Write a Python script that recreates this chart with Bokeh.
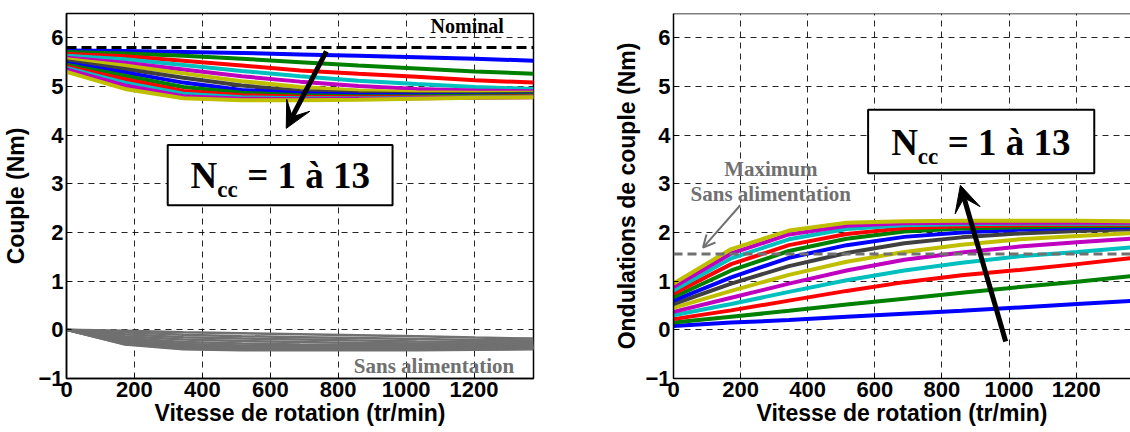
from bokeh.plotting import figure
from bokeh.layouts import row
from bokeh.models import (Range1d, FixedTicker, Label, BoxAnnotation,
                          Arrow, VeeHead, OpenHead, Span)
from bokeh.embed import file_html
from bokeh.resources import INLINE

# ---------------- data ----------------
speed = [0, 172, 344, 516, 688, 859, 1031, 1203, 1375]

x_ticks = [0, 200, 400, 600, 800, 1000, 1200]
y_ticks = [-1, 0, 1, 2, 3, 4, 5, 6]

series_colors = ["#0000FF", "#008000", "#FF0000", "#00BFBF", "#BF00BF", "#BFBF00", "#404040",
                 "#0000FF", "#008000", "#FF0000", "#00BFBF", "#BF00BF", "#BFBF00"]

# Couple (Nm), Ncc = 1 .. 13
couple_n1 = [5.74, 5.73, 5.71, 5.69, 5.66, 5.63, 5.60, 5.57, 5.53]
couple_n2 = [5.71, 5.68, 5.63, 5.57, 5.50, 5.43, 5.37, 5.31, 5.26]
couple_n3 = [5.67, 5.62, 5.53, 5.43, 5.33, 5.26, 5.20, 5.13, 5.08]
couple_n4 = [5.63, 5.56, 5.44, 5.32, 5.21, 5.12, 5.05, 4.99, 4.95]
couple_n5 = [5.59, 5.49, 5.35, 5.21, 5.10, 5.01, 4.95, 4.92, 4.90]
couple_n6 = [5.56, 5.43, 5.27, 5.11, 4.99, 4.92, 4.88, 4.87, 4.87]
couple_n7 = [5.52, 5.36, 5.18, 5.02, 4.91, 4.86, 4.84, 4.84, 4.85]
couple_n8 = [5.48, 5.29, 5.08, 4.93, 4.86, 4.83, 4.82, 4.82, 4.83]
couple_n9 = [5.45, 5.22, 4.99, 4.87, 4.82, 4.80, 4.80, 4.81, 4.82]
couple_n10 = [5.41, 5.15, 4.91, 4.82, 4.79, 4.78, 4.78, 4.79, 4.80]
couple_n11 = [5.38, 5.08, 4.85, 4.78, 4.76, 4.76, 4.77, 4.78, 4.79]
couple_n12 = [5.35, 5.02, 4.80, 4.75, 4.74, 4.75, 4.76, 4.77, 4.78]
couple_n13 = [5.30, 4.95, 4.76, 4.72, 4.72, 4.73, 4.75, 4.77, 4.78]

# Couple sans alimentation (Nm)
sans_n1 = [0, -0.02, -0.05, -0.07, -0.09, -0.11, -0.13, -0.16, -0.18]
sans_n2 = [0, -0.05, -0.10, -0.13, -0.15, -0.17, -0.19, -0.21, -0.22]
sans_n3 = [0, -0.09, -0.15, -0.18, -0.20, -0.22, -0.24, -0.25, -0.25]
sans_n4 = [0, -0.13, -0.20, -0.23, -0.25, -0.27, -0.28, -0.28, -0.28]
sans_n5 = [0, -0.17, -0.25, -0.28, -0.30, -0.31, -0.31, -0.31, -0.30]
sans_n6 = [0, -0.20, -0.29, -0.32, -0.33, -0.34, -0.34, -0.33, -0.32]
sans_n7 = [0, -0.22, -0.31, -0.34, -0.35, -0.35, -0.35, -0.35, -0.34]
sans_n8 = [0, -0.24, -0.33, -0.36, -0.37, -0.37, -0.37, -0.36, -0.35]
sans_n9 = [0, -0.25, -0.35, -0.37, -0.38, -0.38, -0.38, -0.37, -0.36]
sans_n10 = [0, -0.27, -0.36, -0.39, -0.39, -0.39, -0.39, -0.38, -0.37]
sans_n11 = [0, -0.28, -0.38, -0.40, -0.40, -0.40, -0.40, -0.39, -0.38]
sans_n12 = [0, -0.29, -0.39, -0.41, -0.41, -0.41, -0.41, -0.40, -0.39]
sans_n13 = [0, -0.30, -0.40, -0.42, -0.42, -0.42, -0.42, -0.41, -0.40]

# Ondulations de couple (Nm), Ncc = 1 .. 13
ond_n1 = [0.08, 0.15, 0.20, 0.27, 0.33, 0.39, 0.46, 0.53, 0.60]
ond_n2 = [0.15, 0.27, 0.39, 0.52, 0.64, 0.76, 0.88, 0.99, 1.11]
ond_n3 = [0.22, 0.40, 0.60, 0.80, 0.98, 1.12, 1.23, 1.35, 1.48]
ond_n4 = [0.30, 0.53, 0.78, 1.02, 1.22, 1.38, 1.51, 1.60, 1.70]
ond_n5 = [0.37, 0.66, 0.95, 1.22, 1.44, 1.59, 1.71, 1.80, 1.88]
ond_n6 = [0.45, 0.80, 1.13, 1.40, 1.60, 1.75, 1.86, 1.93, 1.99]
ond_n7 = [0.53, 0.95, 1.31, 1.58, 1.78, 1.90, 1.98, 2.03, 2.07]
ond_n8 = [0.60, 1.08, 1.48, 1.74, 1.91, 2.00, 2.06, 2.09, 2.11]
ond_n9 = [0.67, 1.22, 1.62, 1.87, 2.02, 2.08, 2.11, 2.13, 2.14]
ond_n10 = [0.74, 1.35, 1.74, 1.97, 2.09, 2.13, 2.15, 2.16, 2.16]
ond_n11 = [0.81, 1.47, 1.86, 2.07, 2.15, 2.17, 2.18, 2.18, 2.18]
ond_n12 = [0.88, 1.57, 1.96, 2.14, 2.19, 2.20, 2.20, 2.20, 2.20]
ond_n13 = [0.95, 1.66, 2.04, 2.20, 2.23, 2.24, 2.24, 2.24, 2.23]

couple_nominal = 5.8
ondulation_max_sans_alim = 1.56

couple_series = [couple_n1, couple_n2, couple_n3, couple_n4, couple_n5, couple_n6, couple_n7,
                 couple_n8, couple_n9, couple_n10, couple_n11, couple_n12, couple_n13]
sans_series = [sans_n1, sans_n2, sans_n3, sans_n4, sans_n5, sans_n6, sans_n7,
               sans_n8, sans_n9, sans_n10, sans_n11, sans_n12, sans_n13]
ond_series = [ond_n1, ond_n2, ond_n3, ond_n4, ond_n5, ond_n6, ond_n7,
              ond_n8, ond_n9, ond_n10, ond_n11, ond_n12, ond_n13]

SANS = "Liberation Sans"
SERIF = "Liberation Serif"
GRAY = "#707070"
H = 432


def style_axis(ax, label_standoff=0):
    ax.axis_line_width = 1.5
    ax.axis_line_color = "black"
    ax.major_tick_in = 5
    ax.major_tick_out = 0
    ax.minor_tick_in = 0
    ax.minor_tick_out = 0
    ax.major_tick_line_color = "black"
    ax.major_label_text_font = SANS
    ax.major_label_text_font_style = "bold"
    ax.major_label_text_font_size = "22px"
    ax.major_label_text_color = "black"
    ax.major_label_standoff = 3
    ax.axis_label_text_font = SANS
    ax.axis_label_text_font_style = "bold"
    ax.axis_label_text_font_size = "23px"
    ax.axis_label_text_color = "black"
    ax.axis_label_standoff = label_standoff


def make_fig(width, mbl, mbr, mbt, mbb, x_end, ylabel, ylabel_standoff):
    p = figure(width=width, height=H, x_range=Range1d(0, x_end), y_range=Range1d(-1, 6.5),
               output_backend="svg", toolbar_location=None,
               min_border_left=mbl, min_border_right=mbr, min_border_top=mbt,
               min_border_bottom=mbb)
    p.xaxis.ticker = FixedTicker(ticks=x_ticks)
    p.yaxis.ticker = FixedTicker(ticks=y_ticks)
    style_axis(p.xaxis[0], 0)
    style_axis(p.yaxis[0], ylabel_standoff)
    p.xaxis.axis_label = "Vitesse de rotation (tr/min)"
    p.yaxis.axis_label = ylabel
    for g in (p.xgrid[0], p.ygrid[0]):
        g.grid_line_color = "black"
        g.grid_line_alpha = 0.85
        g.grid_line_width = 1
        g.grid_line_dash = "6 5"
    p.background_fill_color = "white"
    p.border_fill_color = "white"
    return p


def add_label(p, x, y, text, size, color="black", align="left", font=SERIF):
    p.add_layout(Label(x=x, y=y, text=text, text_font=font, text_font_style="bold",
                       text_font_size=size, text_color=color, text_align=align,
                       text_baseline="middle"))


def add_box(p, left, right, bottom, top):
    p.add_layout(BoxAnnotation(left=left, right=right, bottom=bottom, top=top,
                               fill_color="white", fill_alpha=1,
                               line_color="black", line_alpha=1, line_width=2))


# ---------------- left panel: Couple ----------------
p1 = make_fig(545, 66, 12, 11, 54, 1375, "Couple (Nm)", 6)
p1.outline_line_color = "black"
p1.outline_line_width = 1.5

for ys in sans_series:
    p1.line(speed, ys, line_color=GRAY, line_width=2.5)
for ys, c in zip(couple_series, series_colors):
    p1.line(speed, ys, line_color=c, line_width=4)

p1.add_layout(Span(location=couple_nominal, dimension="width", line_color="black",
                   line_width=3, line_dash="10 5"))
add_label(p1, 1072, 6.24, "Nominal", "20px")
add_label(p1, 846, -0.735, "Sans alimentation", "21px", color=GRAY)
p1.add_layout(Arrow(x_start=765, y_start=5.72, x_end=647, y_end=4.14, line_width=5,
                    line_color="black",
                    end=VeeHead(size=26, fill_color="black", line_color="black")))
add_box(p1, 298, 960, 2.56, 3.80)
add_label(p1, 365, 3.17, "N", "37px")
add_label(p1, 444, 2.89, "cc", "23px")
add_label(p1, 532, 3.17, "= 1 à 13", "37px")

# ---------------- right panel: Ondulations ----------------
p2 = make_fig(585, 128, 0, 13, 53, 1362, "Ondulations de couple (Nm)", 2)
p2.outline_line_color = None

for ys, c in zip(ond_series, series_colors):
    p2.line(speed, ys, line_color=c, line_width=4)

p2.add_layout(Span(location=6.5, dimension="width", line_color="black", line_width=1.5))
p2.add_layout(Span(location=ondulation_max_sans_alim, dimension="width", line_color=GRAY,
                   line_width=3, line_dash="9 5"))
add_label(p2, 290, 3.315, "Maximum", "21px", color=GRAY, align="center")
add_label(p2, 290, 2.80, "Sans alimentation", "21px", color=GRAY, align="center")
p2.add_layout(Arrow(x_start=199, y_start=2.56, x_end=88, y_end=1.69, line_width=2,
                    line_color=GRAY,
                    end=OpenHead(size=12, line_color=GRAY, line_width=2)))
p2.add_layout(Arrow(x_start=990, y_start=-0.24, x_end=855, y_end=2.97, line_width=5,
                    line_color="black",
                    end=VeeHead(size=26, fill_color="black", line_color="black")))
add_box(p2, 580, 1254, 3.22, 4.52)
add_label(p2, 649, 3.85, "N", "37px")
add_label(p2, 728, 3.57, "cc", "23px")
add_label(p2, 817, 3.85, "= 1 à 13", "37px")

layout = row(p1, p2)
open("out.html", "w").write(file_html(layout, INLINE))
